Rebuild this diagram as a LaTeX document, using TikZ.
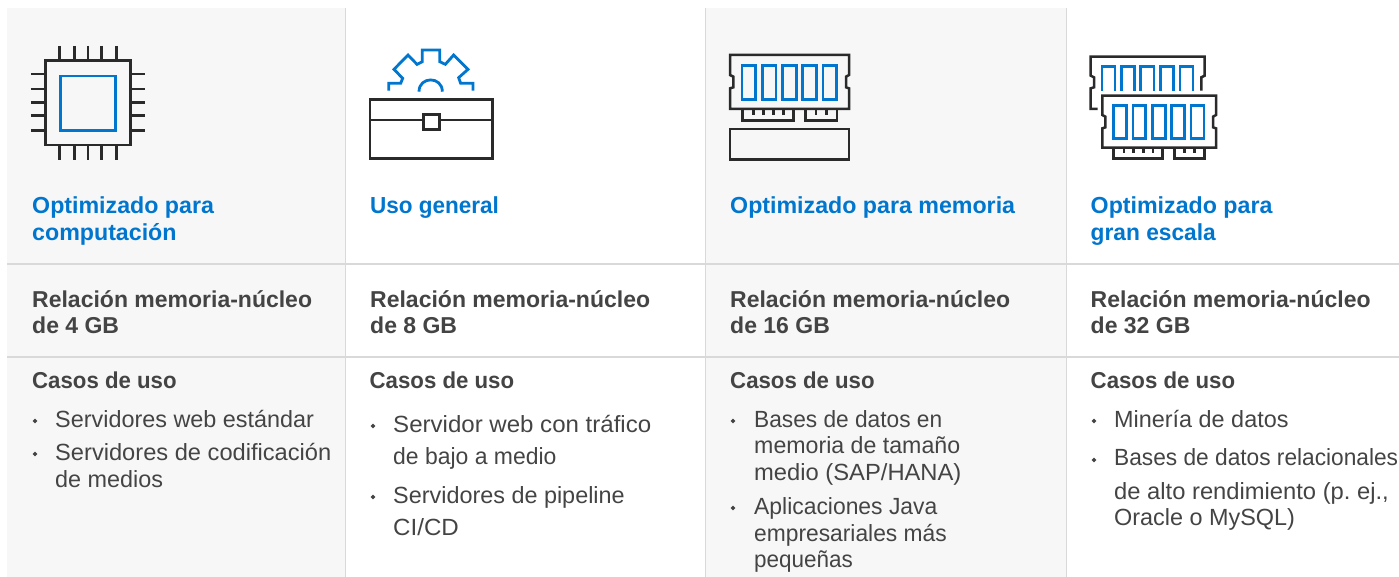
\documentclass[tikz,border=0pt]{standalone}
\usepackage{graphicx}
\usepackage{fontspec}
\setmainfont{Liberation Sans}
\frenchspacing
\definecolor{dellblue}{HTML}{0076CE}
\definecolor{inkgray}{HTML}{444444}
\definecolor{panelgray}{HTML}{F7F7F7}
\definecolor{rulegray}{HTML}{D9D9D9}
\definecolor{iconink}{HTML}{2A2A2A}
\tikzset{
  cellrule/.style={rulegray,line width=1.3pt},
  headtext/.style={anchor=base west,inner sep=0pt,text=dellblue,font=\fontsize{23.2}{27}\selectfont\bfseries},
  boldtext/.style={anchor=base west,inner sep=0pt,text=inkgray,font=\fontsize{23}{26}\selectfont\bfseries},
  bodytext/.style={anchor=base west,inner sep=0pt,text=inkgray,font=\fontsize{23.4}{26}\selectfont},
  icondark/.style={draw=iconink,line width=2.5pt,line join=miter},
  iconblue/.style={draw=dellblue,line width=2.8pt,line join=miter},
  bulletmark/.style={fill=inkgray,draw=none}
}
\newcommand{\bulletat}[2]{\fill[bulletmark] (#1-2.4,#2) -- (#1,#2-2.4) -- (#1+2.4,#2) -- (#1,#2+2.4) -- cycle;}
\newcommand{\hs}[2]{\scalebox{#1}[1]{#2}}
\begin{document}
\begin{tikzpicture}[x=1pt,y=-1pt]
\useasboundingbox (0,0) rectangle (1399,577);
\fill[white] (0,0) rectangle (1399,577);
\fill[panelgray] (7,8) rectangle (345,577);
\fill[panelgray] (706,8) rectangle (1066,577);
\draw[cellrule] (7,264) -- (1399,264);
\draw[cellrule] (7,357) -- (1399,357);
\draw[cellrule] (345.5,8) -- (345.5,577);
\draw[cellrule] (705.5,8) -- (705.5,577);
\draw[cellrule] (1066.5,8) -- (1066.5,577);

% chip icon
\begin{scope}[scale=1/3]
\draw[icondark] (137,182) rectangle (392,435);
\draw[iconblue] (182,228) rectangle (347,392);
\foreach \p in {178,223,264,304,350}{
  \draw[icondark] (\p,138) -- (\p,182);
  \draw[icondark] (\p,435) -- (\p,481);
}
\foreach \p in {222,267,307,347,392}{
  \draw[icondark] (93,\p) -- (137,\p);
  \draw[icondark] (392,\p) -- (436,\p);
}
\end{scope}

% toolbox icon
\begin{scope}[shift={(340,0)},scale=1/3]
\draw[iconblue] (146,272) -- (146,250) -- (182,250) -- (188,235) -- (162,208) -- (204,165) -- (231,193) -- (247,185) -- (247,150) -- (299,150) -- (299,185) -- (316,193) -- (341,165) -- (384,208) -- (356,233) -- (362,250) -- (399,250) -- (399,272);
\draw[iconblue] (237,275) .. controls (237,228) and (307,228) .. (307,275);
\draw[icondark] (90,298) rectangle (457,476);
\draw[icondark] (90,360) -- (457,360);
\draw[icondark,fill=white] (250,343) rectangle (298,389);
\end{scope}

% memory icon
\begin{scope}[shift={(700,30)},scale=1/3]
\draw[icondark] (90,75) -- (447,75) -- (447,135) -- (438,140) -- (438,172) -- (447,175) -- (447,237) -- (90,237) -- (90,175) -- (100,172) -- (100,140) -- (90,135) -- cycle;
\foreach \a/\b in {126/166,187/228,248/289,308/350,369/410}{
  \draw[iconblue] (\a,106) rectangle (\b,209);
}
\draw[icondark] (127,237) -- (127,272) -- (281,272) -- (281,237);
\draw[icondark] (316,237) -- (316,272) -- (411,272) -- (411,237);
\foreach \p in {160,190,220,250,348,379}{
  \draw[icondark] (\p,237) -- (\p,255);
}
\draw[icondark] (90,297) rectangle (447,388);
\end{scope}

% large scale icon
\begin{scope}[shift={(1060,30)},scale=1/3]
\draw[icondark] (113,237) -- (92,237) -- (92,175) -- (102,172) -- (102,142) -- (92,137) -- (92,80) -- (434,80) -- (434,137) -- (424,142) -- (424,182);
\foreach \a/\b in {126/165,184/223,242/282,301/340,360/399}{
  \draw[iconblue] (\a,182) -- (\a,110) -- (\b,110) -- (\b,182);
}
\draw[icondark] (127,197) -- (468,197) -- (468,255) -- (459,260) -- (459,292) -- (468,295) -- (468,353) -- (127,353) -- (127,295) -- (136,292) -- (136,260) -- (127,255) -- cycle;
\foreach \a/\b in {160/199,219/257,277/316,335/374,393/432}{
  \draw[iconblue] (\a,227) rectangle (\b,325);
}
\draw[icondark] (161,353) -- (161,386) -- (308,386) -- (308,353);
\draw[icondark] (343,353) -- (343,386) -- (434,386) -- (434,353);
\foreach \p in {192,221,250,279,373,403}{
  \draw[icondark] (\p,353) -- (\p,370);
}
\end{scope}

% headings
\begin{scope}[shift={(0,0.7)}]
\node[headtext] (h1a) at (32,213) {Optimizado para};
\node[headtext] (h1b) at (32,240) {computación};
\node[headtext] (h2a) at (370,213) {\hs{.97}{Uso general}};
\node[headtext] (h3a) at (730,213) {Optimizado para memoria};
\node[headtext] (h4a) at (1090.5,213) {Optimizado para};
\node[headtext] (h4b) at (1090.5,240) {\hs{.98}{gran escala}};
\end{scope}

\begin{scope}[shift={(0,1.2)}]
% ratios
\node[boldtext] (r1a) at (32,306) {Relación memoria-núcleo};
\node[boldtext] (r1b) at (32,332) {de 4 GB};
\node[boldtext] (r2a) at (370,306) {Relación memoria-núcleo};
\node[boldtext] (r2b) at (370,332) {de 8 GB};
\node[boldtext] (r3a) at (730,306) {Relación memoria-núcleo};
\node[boldtext] (r3b) at (730,332) {de 16 GB};
\node[boldtext] (r4a) at (1090.5,306) {Relación memoria-núcleo};
\node[boldtext] (r4b) at (1090.5,332) {de 32 GB};

% use case titles
\node[boldtext] (c1) at (32,387) {\hs{.966}{Casos de uso}};
\node[boldtext] (c2) at (369.5,387) {\hs{.966}{Casos de uso}};
\node[boldtext] (c3) at (730,387) {\hs{.966}{Casos de uso}};
\node[boldtext] (c4) at (1090.5,387) {\hs{.966}{Casos de uso}};

% column 1
\node[bodytext] (a1) at (55,426) {Servidores web estándar};
\node[bodytext] (a2) at (55,459) {\hs{1.011}{Servidores de codificación}};
\node[bodytext] (a3) at (55,486) {de medios};

% column 2
\node[bodytext] (b1) at (393,431) {\hs{1.028}{Servidor web con tráfico}};
\node[bodytext] (b2) at (393,463) {\hs{.98}{de bajo a medio}};
\node[bodytext] (b3) at (393,502) {Servidores de pipeline};
\node[bodytext] (b4) at (393,534) {\hs{1.03}{CI/CD}};

% column 3
\node[bodytext] (d1) at (754,426) {\hs{.97}{Bases de datos en}};
\node[bodytext] (d2) at (754,452) {\hs{.99}{memoria de tamaño}};
\node[bodytext] (d3) at (754,479) {\hs{1.015}{medio (SAP/HANA)}};
\node[bodytext] (d4) at (754,513) {\hs{.978}{Aplicaciones Java}};
\node[bodytext] (d5) at (754,540) {\hs{.974}{empresariales más}};
\node[bodytext] (d6) at (754,566) {\hs{.96}{pequeñas}};

% column 4
\node[bodytext] (e1) at (1114,426) {Minería de datos};
\node[bodytext] (e2) at (1114,464) {\hs{.97}{Bases de datos relacionales}};
\node[bodytext] (e3) at (1114,498) {\hs{1.015}{de alto rendimiento (p. ej.,}};
\node[bodytext] (e4) at (1114,524) {Oracle o MySQL)};
\end{scope}

% bullets
\bulletat{35}{421}
\bulletat{35}{454}
\bulletat{373}{426}
\bulletat{373}{497}
\bulletat{733}{421}
\bulletat{733}{508}
\bulletat{1094}{421}
\bulletat{1094}{460}
\end{tikzpicture}
\end{document}
